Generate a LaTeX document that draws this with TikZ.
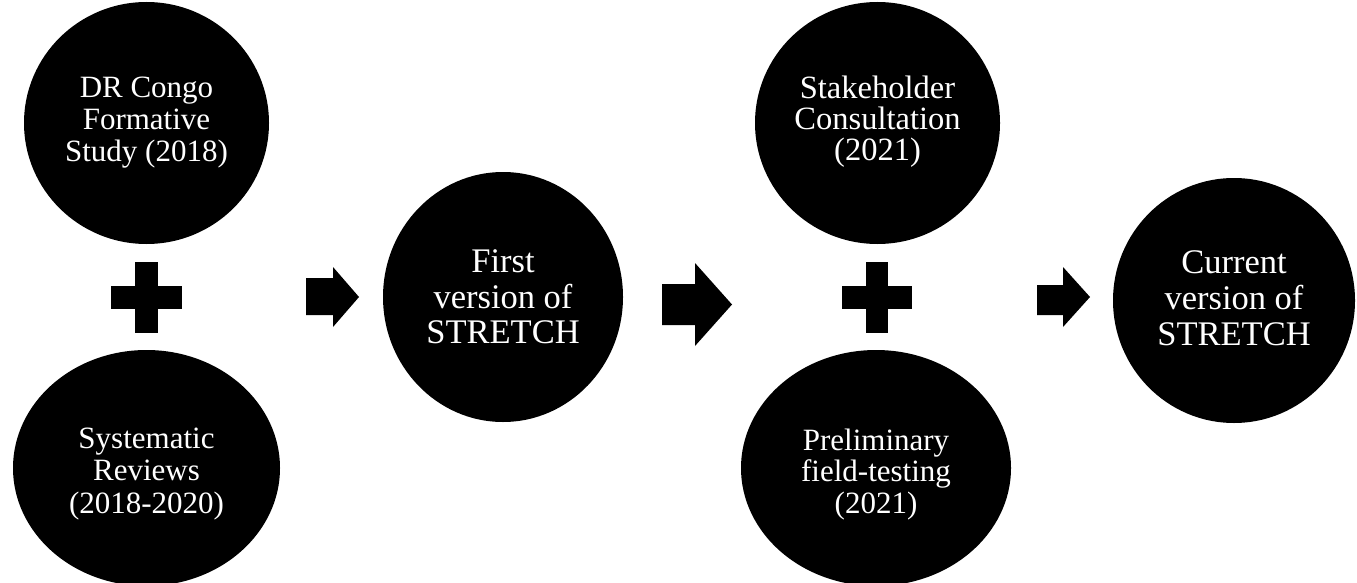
\documentclass[tikz,border=0pt]{standalone}
\usepackage{fontspec}
\setmainfont{Liberation Serif}
\usetikzlibrary{shapes.geometric}
% #1 space above, #2 space below, #3 lines separated by \cr
\newcommand\blobtext[3]{\vbox{\vskip#1\halign{\hfil##\hfil\cr#3\crcr}\vskip#2}}
\begin{document}
\begin{tikzpicture}[x=1pt,y=-1pt,
  blob/.style={ellipse, fill=black, text=white, inner sep=0pt},
  solid shape/.style={fill=black}]
\useasboundingbox (0,0) rectangle (1357,583);
% circles
\node[blob, minimum width=245pt, minimum height=242pt, font=\fontsize{31}{32}\selectfont] (c1) at (146.5,123)
  {\blobtext{0pt}{0pt}{DR Congo\cr Formative\cr Study (2018)}};
\node[blob, minimum width=267pt, minimum height=236pt, font=\fontsize{31}{32.5}\selectfont] (c2) at (146.5,468)
  {\blobtext{12pt}{0pt}{Systematic\cr Reviews\cr (2018-2020)}};
\node[blob, minimum width=240pt, minimum height=250pt, font=\fontsize{34.5}{35.5}\selectfont] (c3) at (503,297)
  {\blobtext{0pt}{0pt}{First\cr version of\cr STRETCH}};
\node[blob, minimum width=245pt, minimum height=242pt, font=\fontsize{32.5}{31}\selectfont] (c4) at (877.5,123)
  {\blobtext{0pt}{2pt}{Stakeholder\cr Consultation\cr (2021)}};
\node[blob, minimum width=270pt, minimum height=236pt, font=\fontsize{31}{31.5}\selectfont] (c5) at (876,468)
  {\blobtext{13pt}{0pt}{Preliminary\cr field-testing\cr (2021)}};
\node[blob, minimum width=242pt, minimum height=245pt, font=\fontsize{34.5}{36}\selectfont] (c6) at (1234,300.5)
  {\blobtext{0pt}{4pt}{Current\cr version of\cr STRETCH}};
% plus signs
\fill[solid shape] (111,286) rectangle (182,309);
\fill[solid shape] (135,262) rectangle (158,333);
\fill[solid shape] (842,286) rectangle (912,309);
\fill[solid shape] (866,262) rectangle (888,333);
% block arrows
\fill[solid shape] (306,278) -- (333,278) -- (333,267) -- (359,297) -- (333,327) -- (333,315) -- (306,315) -- cycle;
\fill[solid shape] (662,284) -- (695,284) -- (695,263) -- (732,304.5) -- (695,346) -- (695,325) -- (662,325) -- cycle;
\fill[solid shape] (1037,285) -- (1063,285) -- (1063,267) -- (1090,297) -- (1063,327) -- (1063,315) -- (1037,315) -- cycle;
\end{tikzpicture}
\end{document}
